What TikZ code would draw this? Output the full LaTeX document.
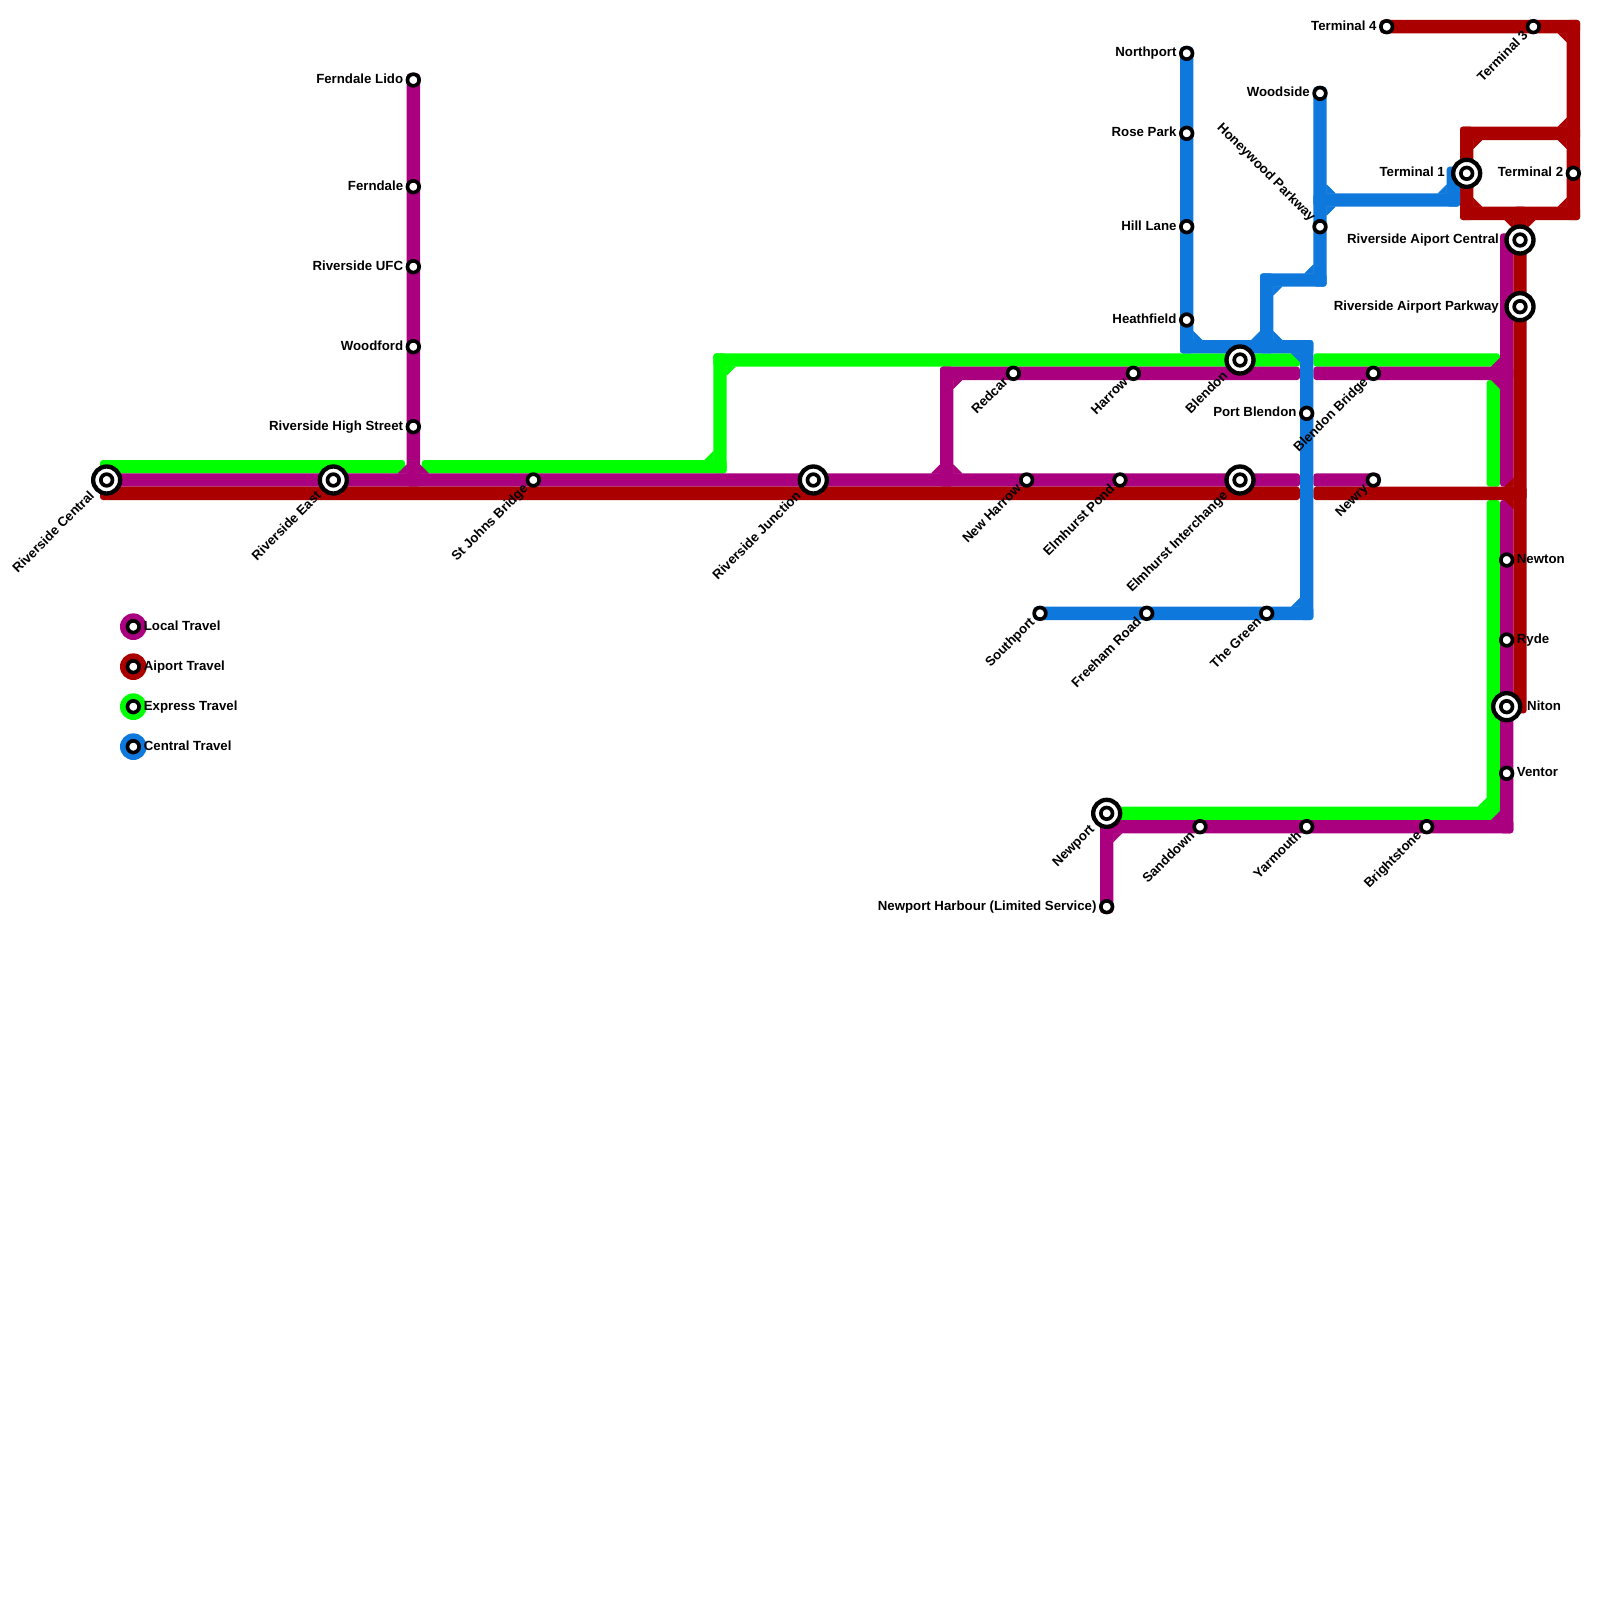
\documentclass[tikz,border=0pt]{standalone}
\usepackage{fontspec}
\setmainfont{Liberation Sans}
\usetikzlibrary{calc}
\pgfdeclarelayer{background}
\pgfsetlayers{background,main}
\definecolor{local}{HTML}{AA007F}
\definecolor{airport}{HTML}{AA0000}
\definecolor{express}{HTML}{00FF00}
\definecolor{central}{HTML}{0F78DC}
\tikzset{
  stn/.style={circle,draw=black,fill=white,line width=3.67pt,minimum size=11.67pt,inner sep=0pt,outer sep=0pt},
  bigstn/.style={circle,draw=black,fill=white,line width=4.33pt,minimum size=27pt,inner sep=0pt,outer sep=0pt,
    path picture={\draw[line width=3.67pt] (path picture bounding box.center) circle (5.83pt);}},
  lab/.style={inner sep=0pt,font=\fontsize{13.25}{14}\selectfont\bfseries,text height=10pt,text depth=3pt},
  labL/.style={lab,anchor=east},
  labR/.style={lab,anchor=west},
  labD/.style={lab,anchor=east,rotate=45},
  labU/.style={lab,anchor=east,rotate=-45},
  seg/.style={rounded corners=3pt,to path={($(\tikztostart)+(-6.67,-6.67)$) rectangle ($(\tikztotarget)+(6.67,6.67)$)}},
  key/.style={circle,minimum size=26.67pt,inner sep=0pt,outer sep=0pt}
}
\newcommand{\cham}[4]{\filldraw[#1,line width=.6pt,line join=round] (#2) -- ++(#3,0) -- ++(-#3,#4) -- cycle;}
\begin{document}
\begin{tikzpicture}[x=1pt,y=-1pt]
\useasboundingbox (0,0) rectangle (1600,1600);
% stations
\node[bigstn] (rc) at (106.67,480) {};
\node[bigstn] (re) at (333.33,480) {};
\node[stn] (sj) at (533.33,480) {};
\node[bigstn] (rj) at (813.33,480) {};
\node[stn] (nh) at (1026.67,480) {};
\node[stn] (ep) at (1120,480) {};
\node[bigstn] (ei) at (1240,480) {};
\node[stn] (nw) at (1373.33,480) {};
\node[stn] (fl) at (413.33,80) {};
\node[stn] (fd) at (413.33,186.67) {};
\node[stn] (ru) at (413.33,266.67) {};
\node[stn] (wf) at (413.33,346.67) {};
\node[stn] (rh) at (413.33,426.67) {};
\node[stn] (rd) at (1013.33,373.33) {};
\node[stn] (hw) at (1133.33,373.33) {};
\node[bigstn] (bl) at (1240,360) {};
\node[stn] (bb) at (1373.33,373.33) {};
\node[stn] (pb) at (1306.67,413.33) {};
\node[stn] (np) at (1186.67,53.33) {};
\node[stn] (rp) at (1186.67,133.33) {};
\node[stn] (hl) at (1186.67,226.67) {};
\node[stn] (hf) at (1186.67,320) {};
\node[stn] (ws) at (1320,93.33) {};
\node[stn] (hp) at (1320,226.67) {};
\node[stn] (sp) at (1040,613.33) {};
\node[stn] (fr) at (1146.67,613.33) {};
\node[stn] (tg) at (1266.67,613.33) {};
\node[stn] (t4) at (1386.67,26.67) {};
\node[stn] (t3) at (1533.33,26.67) {};
\node[stn] (t2) at (1573.33,173.33) {};
\node[bigstn] (t1) at (1466.67,173.33) {};
\node[bigstn] (rac) at (1520,240) {};
\node[bigstn] (rap) at (1520,306.67) {};
\node[stn] (ne) at (1506.67,560) {};
\node[stn] (ry) at (1506.67,640) {};
\node[bigstn] (ni) at (1506.67,706.67) {};
\node[stn] (ve) at (1506.67,773.33) {};
\node[bigstn] (npt) at (1106.67,813.33) {};
\node[stn] (nph) at (1106.67,906.67) {};
\node[stn] (sd) at (1200,826.67) {};
\node[stn] (ym) at (1306.67,826.67) {};
\node[stn] (bs) at (1426.67,826.67) {};
% line vertices
\coordinate (g1) at (106.67,466.67);
\coordinate (g2) at (398.33,466.67);
\coordinate (g3) at (428.33,466.67);
\coordinate (g4) at (720,466.67);
\coordinate (g5) at (720,360);
\coordinate (g6) at (1293.33,360);
\coordinate (g7) at (1320,360);
\coordinate (g8) at (1493.33,360);
\coordinate (g9) at (1493.33,386.67);
\coordinate (g10) at (1493.33,480);
\coordinate (g11) at (1493.33,506.67);
\coordinate (g12) at (1493.33,813.33);
\coordinate (p1) at (413.33,480);
\coordinate (p2) at (946.67,480);
\coordinate (p3) at (946.67,373.33);
\coordinate (p4) at (1293.33,373.33);
\coordinate (p5) at (1293.33,480);
\coordinate (p6) at (1320,373.33);
\coordinate (p7) at (1506.67,373.33);
\coordinate (p8) at (1320,480);
\coordinate (p9) at (1506.67,240);
\coordinate (p10) at (1506.67,480);
\coordinate (p11) at (1506.67,506.67);
\coordinate (p12) at (1506.67,826.67);
\coordinate (p13) at (1106.67,826.67);
\coordinate (r1) at (106.67,493.33);
\coordinate (r2) at (1293.33,493.33);
\coordinate (r3) at (1320,493.33);
\coordinate (r4) at (1520,493.33);
\coordinate (r5) at (1573.33,26.67);
\coordinate (r6) at (1573.33,213.33);
\coordinate (r7) at (1466.67,213.33);
\coordinate (r8) at (1466.67,133.33);
\coordinate (r9) at (1573.33,133.33);
\coordinate (r10) at (1520,213.33);
\coordinate (r11) at (1520,706.67);
\coordinate (b1) at (1186.67,346.67);
\coordinate (b2) at (1306.67,346.67);
\coordinate (b3) at (1306.67,613.33);
\coordinate (b4) at (1320,280);
\coordinate (b5) at (1266.67,280);
\coordinate (b6) at (1266.67,346.67);
\coordinate (b7) at (1320,200);
\coordinate (b8) at (1453.33,200);
\coordinate (b9) at (1453.33,173.33);
\begin{pgfonlayer}{background}
\fill[white] (0,0) rectangle (1600,1600);
% express
\fill[express,seg] (g1) to (g2);
\fill[express,seg] (g3) to (g4);
\fill[express,seg] (g5) to (g4);
\fill[express,seg] (g5) to (g6);
\fill[express,seg] (g7) to (g8);
\fill[express,seg] (g9) to (g10);
\fill[express,seg] (g11) to (g12);
\fill[express,seg] (npt) to (g12);
\cham{express}{713.33,460}{-8.5}{-8.5}
\cham{express}{726.67,366.67}{8.5}{8.5}
\cham{express}{1486.67,806.67}{-8.5}{-8.5}
% local
\fill[local,seg] (fl) to (p1);
\fill[local,seg] (rc) to (p5);
\fill[local,seg] (p3) to (p2);
\fill[local,seg] (p3) to (p4);
\fill[local,seg] (p6) to (p7);
\fill[local,seg] (p8) to (nw);
\fill[local,seg] (p9) to (p10);
\fill[local,seg] (p11) to (p12);
\fill[local,seg] (p13) to (p12);
\fill[local,seg] (npt) to (nph);
\cham{local}{406.67,473.33}{-8.5}{-8.5}
\cham{local}{420,473.33}{8.5}{-8.5}
\cham{local}{940,473.33}{-8.5}{-8.5}
\cham{local}{953.33,473.33}{8.5}{-8.5}
\cham{local}{953.33,380}{8.5}{8.5}
\cham{local}{1500,366.67}{-8.5}{-8.5}
\cham{local}{1500,380}{-8.5}{8.5}
\cham{local}{1500,820}{-8.5}{-8.5}
\cham{local}{1113.33,833.33}{8.5}{8.5}
% airport
\fill[airport,seg] (r1) to (r2);
\fill[airport,seg] (r3) to (r4);
\fill[airport,seg] (rac) to (r11);
\fill[airport,seg] (t4) to (r5);
\fill[airport,seg] (r5) to (r6);
\fill[airport,seg] (r7) to (r6);
\fill[airport,seg] (r8) to (r7);
\fill[airport,seg] (r8) to (r9);
\fill[airport,seg] (r10) to (rac);
\cham{airport}{1513.33,486.67}{-8.5}{-8.5}
\cham{airport}{1513.33,500}{-8.5}{8.5}
\cham{airport}{1566.67,33.33}{-8.5}{8.5}
\cham{airport}{1566.67,126.67}{-8.5}{-8.5}
\cham{airport}{1566.67,140}{-8.5}{8.5}
\cham{airport}{1473.33,140}{8.5}{8.5}
\cham{airport}{1473.33,206.67}{8.5}{-8.5}
\cham{airport}{1566.67,206.67}{-8.5}{-8.5}
\cham{airport}{1513.33,220}{-8.5}{8.5}
\cham{airport}{1526.67,220}{8.5}{8.5}
% central
\fill[central,seg] (np) to (b1);
\fill[central,seg] (b1) to (b2);
\fill[central,seg] (b2) to (b3);
\fill[central,seg] (sp) to (b3);
\fill[central,seg] (ws) to (b4);
\fill[central,seg] (b5) to (b4);
\fill[central,seg] (b5) to (b6);
\fill[central,seg] (b7) to (b8);
\fill[central,seg] (b9) to (b8);
\cham{central}{1193.33,340}{8.5}{-8.5}
\cham{central}{1260,340}{-8.5}{-8.5}
\cham{central}{1273.33,340}{8.5}{-8.5}
\cham{central}{1300,353.33}{-8.5}{8.5}
\cham{central}{1300,606.67}{-8.5}{-8.5}
\cham{central}{1273.33,286.67}{8.5}{8.5}
\cham{central}{1313.33,273.33}{-8.5}{-8.5}
\cham{central}{1326.67,193.33}{8.5}{-8.5}
\cham{central}{1326.67,206.67}{8.5}{8.5}
\cham{central}{1446.67,193.33}{-8.5}{-8.5}
\end{pgfonlayer}
% labels
\node[labD] (lrc) at (92.67,494) {Riverside Central};
\node[labD] (lre) at (319.33,494) {Riverside East};
\node[labD] (lsj) at (526.33,487) {St Johns Bridge};
\node[labD] (lrj) at (799.33,494) {Riverside Junction};
\node[labD] (lnh) at (1019.67,487) {New Harrow};
\node[labD] (lep) at (1113,487) {Elmhurst Pond};
\node[labD] (lei) at (1226,494) {Elmhurst Interchange};
\node[labD] (lnw) at (1366.33,487) {Newry};
\node[labD] (lrd) at (1006.33,380.33) {Redcar};
\node[labD] (lhw) at (1126.33,380.33) {Harrow};
\node[labD] (lbl) at (1226,374) {Blendon};
\node[labD] (lbb) at (1366.33,380.33) {Blendon Bridge};
\node[labD] (lsp) at (1033,620.33) {Southport};
\node[labD] (lfr) at (1139.67,620.33) {Freeham Road};
\node[labD] (ltg) at (1259.67,620.33) {The Green};
\node[labD] (lnpt) at (1092.67,827.33) {Newport};
\node[labD] (lsd) at (1193,833.67) {Sanddown};
\node[labD] (lym) at (1299.67,833.67) {Yarmouth};
\node[labD] (lbs) at (1419.67,833.67) {Brightstone};
\node[labD] (lt3) at (1526.33,33.67) {Terminal 3};
\node[labU] (lhp) at (1313,219.67) {Honeywood Parkway};
\node[labL] (lfl) at (403.33,80) {Ferndale Lido};
\node[labL] (lfd) at (403.33,186.67) {Ferndale};
\node[labL] (lru) at (403.33,266.67) {Riverside UFC};
\node[labL] (lwf) at (403.33,346.67) {Woodford};
\node[labL] (lrh) at (403.33,426.67) {Riverside High Street};
\node[labL] (lnp) at (1176.67,53.33) {Northport};
\node[labL] (lrp) at (1176.67,133.33) {Rose Park};
\node[labL] (lhl) at (1176.67,226.67) {Hill Lane};
\node[labL] (lhf) at (1176.67,320) {Heathfield};
\node[labL] (lws) at (1310,93.33) {Woodside};
\node[labL] (lpb) at (1296.67,413.33) {Port Blendon};
\node[labL] (lt4) at (1376.67,26.67) {Terminal 4};
\node[labL] (lt1) at (1445,173.33) {Terminal 1};
\node[labL] (lt2) at (1563.33,173.33) {Terminal 2};
\node[labL] (lrac) at (1499,240) {Riverside Aiport Central};
\node[labL] (lrap) at (1499,306.67) {Riverside Airport Parkway};
\node[labL] (lnph) at (1096.67,906.67) {Newport Harbour (Limited Service)};
\node[labR] (lne) at (1516.67,560) {Newton};
\node[labR] (lry) at (1516.67,640) {Ryde};
\node[labR] (lni) at (1527,706.67) {Niton};
\node[labR] (lve) at (1516.67,773.33) {Ventor};
% legend
\node[key,fill=local] (k1) at (133.33,626.67) {};
\node[key,fill=airport] (k2) at (133.33,666.67) {};
\node[key,fill=express] (k3) at (133.33,706.67) {};
\node[key,fill=central] (k4) at (133.33,746.67) {};
\node[stn] (s1) at (k1.center) {};
\node[stn] (s2) at (k2.center) {};
\node[stn] (s3) at (k3.center) {};
\node[stn] (s4) at (k4.center) {};
\node[labR] (t1x) at (143.7,626.67) {Local Travel};
\node[labR] (t2x) at (143.7,666.67) {Aiport Travel};
\node[labR] (t3x) at (143.7,706.67) {Express Travel};
\node[labR] (t4x) at (143.7,746.67) {Central Travel};
\end{tikzpicture}
\end{document}
